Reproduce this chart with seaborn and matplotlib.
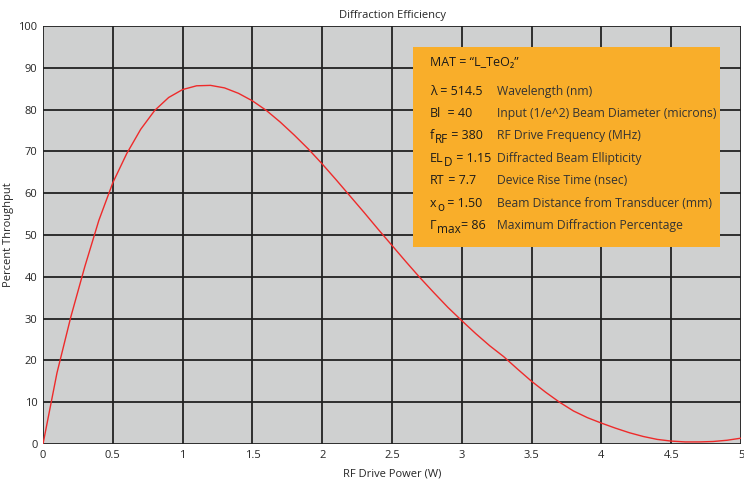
import numpy as np
import pandas as pd
import matplotlib
matplotlib.use("Agg")
import matplotlib.pyplot as plt
import seaborn as sns
from matplotlib.patches import Rectangle

# values, 0.1 W steps
power = [round(0.1 * i, 1) for i in range(51)]
throughput = [0, 17.0, 30.5, 42.5, 53.5, 62.5, 69.5, 75.3, 79.8, 82.9,
              84.8, 85.7, 85.8, 85.2, 83.9, 82.1, 79.8, 77.0, 73.9, 70.6,
              67.0, 63.2, 59.3, 55.4, 51.4, 47.5, 43.6, 39.8, 36.2, 32.7,
              29.5, 26.4, 23.5, 20.9, 17.9, 15.0, 12.4, 10.0, 7.9, 6.3,
              5.0, 3.8, 2.7, 1.8, 1.1, 0.7, 0.5, 0.5, 0.6, 0.9, 1.4]

x_ticks = [0, 0.5, 1, 1.5, 2, 2.5, 3, 3.5, 4, 4.5, 5]
x_tick_labels = ["0", "0.5", "1", "1.5", "2", "2.5", "3", "3.5", "4", "4.5", "5"]
y_ticks = list(range(0, 101, 10))

# (symbol, subscript, value part, description)
params = [
    ("\u03bb", "", " = 514.5", "Wavelength (nm)"),
    ("Bl", "", "  = 40", "Input (1/e^2) Beam Diameter (microns)"),
    ("f", "RF", " = 380", "RF Drive Frequency (MHz)"),
    ("EL", "D", " = 1.15", "Diffracted Beam Ellipticity"),
    ("RT", "", " = 7.7", "Device Rise Time (nsec)"),
    ("x", "o", " = 1.50", "Beam Distance from Transducer (mm)"),
    ("\u0393", "max", "= 86", "Maximum Diffraction Percentage"),
]

df = pd.DataFrame({"power": power, "throughput": throughput})

sns.set_style("white", {"axes.facecolor": "#cfd0d0"})
plt.rcParams["font.family"] = ["Open Sans", "DejaVu Sans"]

fig = plt.figure(figsize=(7.44, 4.91), dpi=100)
ax = fig.add_axes([0.0578, 0.0957, 0.9382, 0.8513])

sns.lineplot(data=df, x="power", y="throughput", ax=ax, color="#ee2a2a",
             linewidth=1.0, zorder=5)

ax.set_xlim(0, 5)
ax.set_ylim(0, 100)
ax.set_xticks(x_ticks)
ax.set_xticklabels(x_tick_labels)
ax.set_yticks(y_ticks)
ax.tick_params(length=0, labelsize=8, pad=4)
ax.grid(True, color="#222222", linewidth=1.3)
ax.set_axisbelow(True)
for s in ax.spines.values():
    s.set_visible(False)

ax.set_title("Diffraction Efficiency", fontsize=8, pad=6)
ax.set_xlabel("RF Drive Power (W)", fontsize=8, labelpad=6)
ax.set_ylabel("Percent Throughput", fontsize=8, labelpad=3)

ax.add_patch(Rectangle((0.530, 0.4713), 0.440, 0.4785, transform=ax.transAxes,
                       facecolor="#f9ae2a", edgecolor="none", zorder=6))

fs = 9
ink = "#1a1a1a"
ax.text(0.5544, (444 - 62) / 418, "MAT = \u201cL_TeO\u2082\u201d", transform=ax.transAxes,
        fontsize=fs, va="center", color=ink, zorder=7)
row_y = [91, 113, 135, 158, 180, 203, 225]
for (sym, sub, val, desc), yy in zip(params, row_y):
    base = ax.text(0.5544, (444 - yy) / 418, sym, transform=ax.transAxes,
                   fontsize=fs, va="center", color=ink, zorder=7)
    last = base
    if sub:
        last = ax.annotate(sub, xy=(1, 0), xycoords=base, xytext=(0.3, -3.5),
                           textcoords="offset points", fontsize=fs - 0.5,
                           va="bottom", color=ink, zorder=7)
    ax.annotate(val, xy=(1, 0), xycoords=(last, base), xytext=(0, 0),
                textcoords="offset points", fontsize=fs,
                va="bottom", color=ink, zorder=7)
    ax.text(0.6504, (444 - yy) / 418, desc, transform=ax.transAxes,
            fontsize=8.7, va="center", color="#333333", zorder=7)

fig.savefig("out.png", dpi=100)
